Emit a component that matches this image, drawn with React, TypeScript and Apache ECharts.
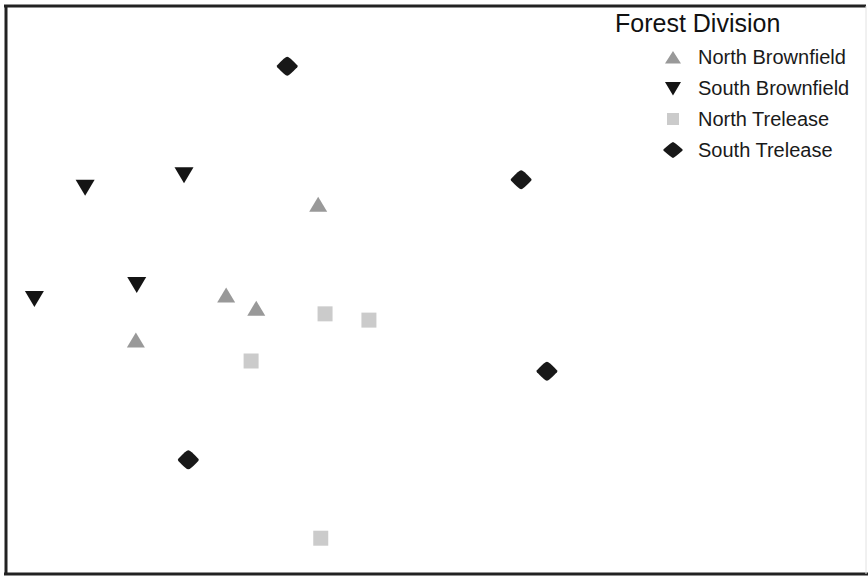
import React, { useEffect, useRef } from "react";
import * as echarts from "echarts";

// NMDS-like ordination coordinates (abstract units, 0–100 range of the plot frame)
const seriesNames = ["North Brownfield", "South Brownfield", "North Trelease", "South Trelease"];
const northBrownfield: [number, number][] = [
  [36.3, 65.1],
  [25.6, 49.1],
  [29.1, 46.8],
  [15.1, 41.2],
];
const southBrownfield: [number, number][] = [
  [9.2, 68.0],
  [20.7, 70.2],
  [3.3, 48.4],
  [15.2, 50.9],
];
const northTrelease: [number, number][] = [
  [37.1, 45.8],
  [42.2, 44.7],
  [28.5, 37.5],
  [36.6, 6.3],
];
const southTrelease: [number, number][] = [
  [32.7, 89.4],
  [59.9, 69.4],
  [62.9, 35.7],
  [21.2, 20.1],
];
const legendTitle = "Forest Division";

const DOWN_TRI = "path://M0,0 L10,0 L5,8.5 Z";
const DIAMOND = "path://M5,0 Q6,0 10,4 Q10.5,4.5 10,5 Q6,9 5,9 Q4,9 0,5 Q-0.5,4.5 0,4 Q4,0 5,0 Z";
// legend icons padded inside a 20x18 box via degenerate corner subpaths
const LEG_UP = "path://M0,0 L0,0.01 M20,18 L20,18.01 M2,15.5 L10,3 L18,15.5 Z";
const LEG_DOWN = "path://M0,0 L0,0.01 M20,18 L20,18.01 M2,3 L18,3 L10,16.5 Z";
const LEG_SQ = "path://M0,0 L0,0.01 M20,18 L20,18.01 M4,3 L16,3 L16,15 L4,15 Z";
const LEG_DIA = "path://M0,0 L0,0.01 M20,18 L20,18.01 M10,1 Q11,1 19.4,8.2 Q20,9 19.4,9.8 Q11,17 10,17 Q9,17 0.6,9.8 Q0,9 0.6,8.2 Q9,1 10,1 Z";

export default function App() {
  const ref = useRef<HTMLDivElement>(null);
  useEffect(() => {
    if (!ref.current) return;
    const chart = echarts.init(ref.current, null, { renderer: "svg" });
    const font = "Liberation Sans, Arial, Helvetica, sans-serif";
    chart.setOption({
      animation: false,
      backgroundColor: "#ffffff",
      title: {
        text: legendTitle,
        left: 610,
        top: 5,
        textStyle: { fontSize: 25, fontWeight: "normal", color: "#111", fontFamily: font },
      },
      legend: {
        orient: "vertical",
        left: 658,
        top: 42,
        itemWidth: 20,
        itemHeight: 18,
        itemGap: 11,
        data: [
          { name: seriesNames[0], icon: LEG_UP },
          { name: seriesNames[1], icon: LEG_DOWN },
          { name: seriesNames[2], icon: LEG_SQ },
          { name: seriesNames[3], icon: LEG_DIA },
        ],
        textStyle: {
          fontSize: 20,
          color: "#1a1a1a",
          fontFamily: font,
          padding: [0, 0, 0, 10],
        },
      },
      grid: { left: 6, top: 6, width: 860, height: 568, show: false },
      xAxis: { type: "value", min: 0, max: 100, show: false },
      yAxis: { type: "value", min: 0, max: 100, show: false },
      series: [
        {
          name: seriesNames[0],
          type: "scatter",
          data: northBrownfield,
          symbol: "triangle",
          symbolSize: [18, 15],
          itemStyle: { color: "#999999", opacity: 1 },
        },
        {
          name: seriesNames[1],
          type: "scatter",
          data: southBrownfield,
          symbol: DOWN_TRI,
          symbolSize: [19, 16],
          itemStyle: { color: "#141414", opacity: 1 },
        },
        {
          name: seriesNames[2],
          type: "scatter",
          data: northTrelease,
          symbol: "rect",
          symbolSize: [15, 15],
          itemStyle: { color: "#cbcbcb", opacity: 1 },
        },
        {
          name: seriesNames[3],
          type: "scatter",
          data: southTrelease,
          symbol: DIAMOND,
          symbolSize: [21, 19],
          itemStyle: { color: "#181818", opacity: 1 },
        },
      ],
      graphic: [
        { type: "line", shape: { x1: 4, y1: 6, x2: 866, y2: 6 }, style: { stroke: "#222", lineWidth: 3 } },
        { type: "line", shape: { x1: 6, y1: 5, x2: 6, y2: 575 }, style: { stroke: "#222", lineWidth: 3 } },
        { type: "line", shape: { x1: 4, y1: 574, x2: 868, y2: 574 }, style: { stroke: "#222", lineWidth: 3 } },
        { type: "line", shape: { x1: 866, y1: 6, x2: 866, y2: 574 }, style: { stroke: "#e2e2e2", lineWidth: 1 } },
      ],
    });
    return () => chart.dispose();
  }, []);
  return (
    <div
      ref={ref}
      style={{ position: "fixed", left: 0, top: 0, width: 868, height: 576, background: "#fff" }}
    />
  );
}
